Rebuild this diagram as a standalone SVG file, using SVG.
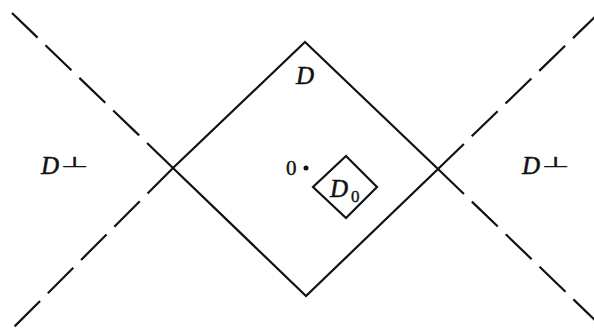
<svg xmlns="http://www.w3.org/2000/svg" width="594" height="329" viewBox="0 0 594 329">
<style>
.s{fill:none;stroke:#111;stroke-width:2.2;stroke-linejoin:miter}
.d{fill:none;stroke:#111;stroke-width:2.2;stroke-dasharray:36 11}
.t{font-family:"Liberation Serif","DejaVu Serif",serif;font-style:italic;fill:#111;stroke:#111;stroke-width:0.5}
.u{font-family:"Liberation Serif","DejaVu Serif",serif;fill:#111;stroke:#111;stroke-width:0.4}
.p{font-family:"DejaVu Sans",sans-serif;fill:#111;stroke:#111;stroke-width:0.6}
</style>
<rect width="594" height="329" fill="#fff"/>
<g id="connectors">
<line class="d" x1="173" y1="168" x2="12" y2="13"/>
<line class="d" x1="173" y1="168" x2="13" y2="328"/>
<line class="d" x1="438" y1="169" x2="600" y2="12"/>
<line class="d" x1="438" y1="169" x2="600" y2="325"/>
</g>
<g id="D">
<polygon class="s" points="305,42 438,169 306,296 173,168"/>
<text class="t" x="305" y="84" font-size="25" text-anchor="middle">D</text>
</g>
<g id="D0">
<polygon class="s" points="346,156 377,187 346,218 313,187"/>
<text class="t" x="330" y="197" font-size="25">D</text>
<text class="u" x="351" y="202" font-size="17">0</text>
</g>
<g id="origin">
<text class="u" x="286" y="175" font-size="21">0</text>
<circle cx="306" cy="168" r="2.5" fill="#111"/>
</g>
<g id="Dperp-left">
<text class="t" x="41" y="174" font-size="25">D</text>
<text class="p" transform="translate(61,167) scale(1,0.45)" font-size="32">⊥</text>
</g>
<g id="Dperp-right">
<text class="t" x="522" y="174" font-size="25">D</text>
<text class="p" transform="translate(542,167) scale(1,0.45)" font-size="32">⊥</text>
</g>
</svg>
